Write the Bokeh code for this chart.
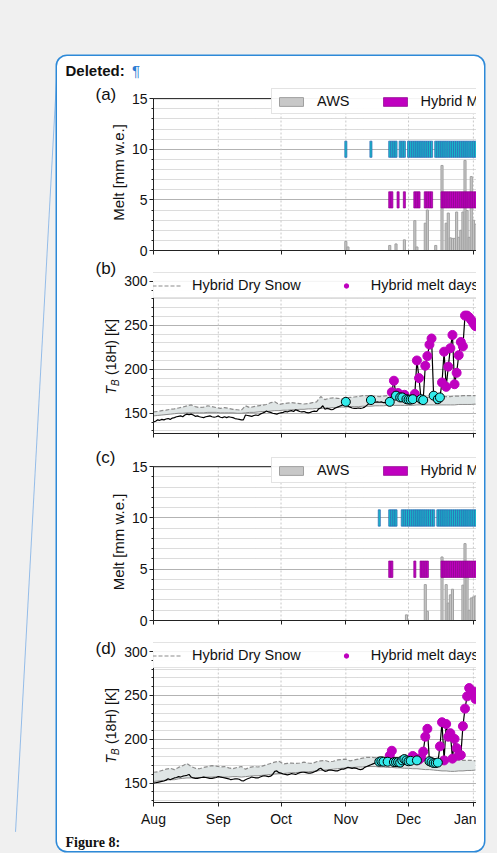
import pandas as pd
from datetime import datetime
from math import pi
from bokeh.plotting import figure
from bokeh.layouts import column, row
from bokeh.models import (Range1d, MonthsTicker, DatetimeTickFormatter, SingleIntervalTicker,
                          Legend, LegendItem, Span, GlobalInlineStyleSheet, CustomJSTickFormatter)
from bokeh.core.properties import value
from bokeh.embed import file_html
from bokeh.resources import INLINE

# ---------------- data ----------------
START = "2016-08-01"          # first day of the daily series
X_END = datetime(2017, 1, 2, 12)
month_ticks = list(range(1, 13))

# (b) observed Tb 18H, daily from START
b_tb = [140, 141, 142.5, 142, 143, 142.5, 143.5, 144, 143, 144.5,
        145, 146, 146.5, 147, 146, 148, 149, 148.5, 149, 148,
        146.5, 147, 146, 145.5, 145, 146, 146.5, 147, 146, 145.5,
        146, 147, 145.5, 145, 146, 145, 146, 145.5, 145, 144,
        143.5, 143, 142.5, 142.5, 148, 147.5, 147, 146.5, 147.5, 148,
        147.5, 149, 150, 151, 152.5, 151.5, 151, 150, 149.5, 149,
        150, 150.5, 151, 152, 151.5, 152.5, 153, 152, 154, 153,
        152, 151.5, 152, 151, 150.5, 151, 152, 152.5, 152, 155,
        156, 158.5, 154.5, 155.5, 155,
        154, 154.5, 156, 157, 158, 159, 160, 163, 158, 157,
        156, 155.5, 155.5, 156, 155.5, 156, 157, 159, 161, 165,
        163, 162.5, 163, 162.5, 163, 162, 162, 161.5,
        163, 174, 187, 170, 173, 168, 168, 171, 166, 165.5,
        165.5, 166, 172, 210, 190, 166, 165, 204, 215, 228,
        235, 170, 161, 166, 168, 185, 220, 180, 203, 224,
        239, 183, 196, 216, 231, 226, 261, 261, 259, 256,
        252, 249]
# (b) hybrid dry-snow envelope, every 2 days from START
b_dry_upper = [151.5, 152, 153, 153.5, 154.5, 155, 156, 157, 158.5, 159.5, 157.5,
               156.5, 157, 158.5, 157.5, 156.5, 155.5, 156.5, 155.5, 154.5, 154,
               153.5, 158.5, 156.5, 157.5, 158.5, 159, 160, 162, 163, 160,
               161, 161.5, 162, 161.5, 161, 160.5, 161, 162, 163, 169,
               165.5, 167, 167.5, 167, 166.5, 167, 168, 168.5, 169, 170,
               170, 169.5, 169.5, 169, 169.5, 170, 170, 170, 169.5, 169,
               169, 168.5, 168.5, 168, 168, 168, 168.5, 168.5, 169, 169,
               169, 169.5, 169.5, 170, 170, 170, 170]
b_dry_lower = [147, 147.5, 148, 148.5, 149, 149.5, 150, 150, 150.5, 150.5, 150.5,
               150.5, 150.5, 151, 151, 151, 150.5, 150.5, 150.5, 150.5, 150,
               150, 150.5, 151, 151, 151.5, 152, 152, 152.5, 153, 153,
               153.5, 153.5, 154, 154, 154.5, 154.5, 155, 155, 155.5, 155.5,
               156, 156, 156.5, 156.5, 157, 157, 157.5, 157.5, 157.5, 158,
               158, 158, 158.5, 158.5, 158.5, 159, 159, 159, 159, 159,
               159, 159, 159.5, 159.5, 159.5, 159.5, 159.5, 159.5, 159.5, 159.5,
               159.5, 159.5, 160, 160, 160, 160, 160.5]
b_cyan_periods = [("2016-11-01", "2016-11-01"), ("2016-11-13", "2016-11-13"),
                  ("2016-11-22", "2016-11-22"), ("2016-11-25", "2016-11-25"),
                  ("2016-11-27", "2016-11-28"), ("2016-11-30", "2016-12-03"),
                  ("2016-12-07", "2016-12-08"), ("2016-12-13", "2016-12-13"),
                  ("2016-12-15", "2016-12-16")]
b_melt_periods = [("2016-11-23", "2016-11-24"), ("2016-11-26", "2016-11-26"),
                  ("2016-11-29", "2016-11-29"), ("2016-12-04", "2016-12-06"),
                  ("2016-12-09", "2016-12-12"), ("2016-12-17", "2017-01-02")]

# (d) observed Tb 18H, daily from START
d_tb = [150, 150.5, 151, 151.5, 152, 152.5, 153.5, 155, 154, 155,
        156, 156.5, 157.5, 157, 158, 158.5, 159, 160, 157, 156,
        155.5, 155.5, 156, 156.5, 157, 156.5, 156, 155.5, 155.5, 156,
        156.5, 157.5, 157, 156.5, 156, 155.5, 155, 154, 154.5, 155,
        155, 154.5, 153, 152.5, 154, 155, 156, 157, 156.5, 156,
        156, 157, 158, 158.5, 158, 157.5, 158, 160, 163.5, 164,
        162, 161.5, 160.5, 160, 159.5, 160, 161, 160.5, 160, 161,
        162, 162.5, 162.5, 162, 161.5, 161.5, 162, 163, 164, 166,
        167, 165, 163.5, 164, 165, 165, 164.5, 164, 164, 165,
        166, 166, 167, 168, 167.5, 167, 167.5, 167, 166, 165.5,
        166, 168, 169, 170, 171, 172, 173, 174,
        174.5, 175, 174.5, 173, 174.5, 181.5, 187, 174, 174, 174,
        173.5, 176, 177.5, 176, 175, 175.5, 181, 179, 176, 177,
        179, 186, 203, 212, 175, 174, 173, 173, 173.5, 192,
        219.5, 176, 217.5, 203, 207, 178, 200.5, 190, 181.5, 182,
        215, 235, 249, 258.5, 253.5, 254.5, 246]
d_dry_upper = [162.5, 163, 164.5, 166, 167, 165.5, 168, 170, 172.5, 169, 167,
               166.5, 168, 169, 170, 169.5, 168.5, 169, 167.5, 166.5, 168,
               169, 166, 168, 169, 168.5, 169.5, 171, 172.5, 174, 175,
               172, 172.5, 173, 172.5, 173, 174, 173, 172.5, 174.5, 175.5,
               176, 174.5, 175, 176.5, 177, 177.5, 175.5, 176.5, 177.5, 178.5,
               179.5, 179.5, 179, 179.5, 179.5, 179, 179, 178.5, 179, 178.5,
               178, 178, 177.5, 177.5, 177, 177.5, 177.5, 177, 177, 176.5,
               176.5, 176, 176.5, 176, 176, 176, 175.5]
d_dry_lower = [152, 152.5, 153, 153.5, 154, 154, 155, 155.5, 156, 156, 156.5,
               156.5, 157, 157, 157, 157.5, 157.5, 157, 157, 157.5, 157.5,
               157, 157.5, 158, 158.5, 158.5, 159, 159.5, 160, 160.5, 161,
               161, 161.5, 162, 162, 162.5, 163, 163, 163.5, 164, 164.5,
               165, 165.5, 166, 166.5, 167, 167.5, 168, 168, 168.5, 168.5,
               169, 169, 169, 168.5, 168.5, 168, 168, 167.5, 167.5, 167,
               167, 166.5, 166.5, 166, 165.5, 165.5, 165, 164.5, 164, 164,
               163.5, 163.5, 164, 164, 164.5, 164.5, 165]
d_cyan_periods = [("2016-11-17", "2016-11-19"), ("2016-11-21", "2016-11-21"),
                  ("2016-11-24", "2016-12-02"), ("2016-12-05", "2016-12-05"),
                  ("2016-12-11", "2016-12-15")]
d_melt_periods = [("2016-11-22", "2016-11-23"), ("2016-12-03", "2016-12-04"),
                  ("2016-12-06", "2016-12-10"), ("2016-12-16", "2017-01-02")]

# (a) daily melt
a_aws_dates = ["2016-11-01", "2016-11-02", "2016-11-22", "2016-11-25", "2016-11-29",
               "2016-12-04", "2016-12-05", "2016-12-09", "2016-12-10", "2016-12-14",
               "2016-12-17", "2016-12-19", "2016-12-20", "2016-12-21", "2016-12-22",
               "2016-12-23", "2016-12-24", "2016-12-25", "2016-12-26", "2016-12-27",
               "2016-12-28", "2016-12-29", "2016-12-30", "2016-12-31", "2017-01-01",
               "2017-01-02"]
a_aws_melt = [0.9, 0.35, 0.5, 0.65, 1.05, 2.95, 0.35, 2.7, 4.0, 0.5,
              8.4, 2.7, 3.7, 1.25, 1.2, 1.2, 3.8, 1.3, 2.0, 3.8,
              8.9, 3.95, 1.3, 7.3, 3.0, 2.6]
a_hybrid_periods = [("2016-11-22", "2016-11-23"), ("2016-11-26", "2016-11-26"),
                    ("2016-11-29", "2016-11-29"), ("2016-12-04", "2016-12-06"),
                    ("2016-12-09", "2016-12-12"), ("2016-12-17", "2017-01-02")]
a_other_periods = [("2016-11-01", "2016-11-01"), ("2016-11-13", "2016-11-13"),
                   ("2016-11-22", "2016-11-25"), ("2016-11-27", "2016-11-29"),
                   ("2016-12-01", "2016-12-12"), ("2016-12-14", "2017-01-02")]

# (c) daily melt
c_aws_dates = ["2016-11-30", "2016-12-09", "2016-12-10", "2016-12-17", "2016-12-19",
               "2016-12-20", "2016-12-21", "2016-12-22", "2016-12-27", "2016-12-28",
               "2016-12-29", "2016-12-30", "2016-12-31", "2017-01-01", "2017-01-02"]
c_aws_melt = [0.55, 3.5, 0.9, 6.2, 3.5, 1.7, 2.5, 3.05, 3.45, 7.5, 4.3, 1.0, 2.2, 2.3, 2.4]
c_hybrid_periods = [("2016-11-22", "2016-11-23"), ("2016-12-04", "2016-12-04"),
                    ("2016-12-07", "2016-12-10"), ("2016-12-17", "2017-01-02")]
c_other_periods = [("2016-11-17", "2016-11-17"), ("2016-11-22", "2016-11-25"),
                   ("2016-11-28", "2016-12-13"), ("2016-12-15", "2017-01-02")]

HYBRID_ROW = 5
OTHER_ROW = 10

# ---------------- styling ----------------
FONT = "Liberation Sans"
DAY_MS = 86400000
ROW_HALF = 0.8
MAGENTA = "#bf00bf"
CYAN = "#33eaea"
TXT = "#111111"
month_starts = pd.date_range(START, X_END, freq="MS")


def expand(periods):
    out = []
    for s, e in periods:
        out.extend(pd.date_range(s, e, freq="D"))
    return out


def plain_fig(width, height):
    g = figure(width=width, height=height, x_range=Range1d(0, width), y_range=Range1d(height, 0),
               output_backend="svg", toolbar_location=None, min_border=0,
               x_axis_location=None, y_axis_location=None, frame_align=False)
    g.title.visible = False
    g.grid.visible = False
    g.outline_line_color = None
    g.background_fill_color = None
    g.border_fill_color = None
    return g


def gtext(g, x, y, text, size, angle=0, align="left", style="normal", font=FONT, color=TXT):
    g.text(x=[x], y=[y], text=[text], angle=angle, text_align=align, text_baseline="middle",
           text_font=value(font), text_font_size=size, text_font_style=style, text_color=color)


def base_fig(width, height, left, top, bottom, y_range, bounds, ticker, show_x):
    p = figure(width=width, height=height, x_axis_type="datetime",
               x_range=Range1d(datetime(2016, 8, 1), X_END), y_range=y_range,
               output_backend="svg", toolbar_location=None, frame_align=False,
               min_border_left=left, min_border_right=0,
               min_border_top=top, min_border_bottom=bottom)
    p.title.visible = False
    p.outline_line_color = None
    p.border_fill_color = None
    p.background_fill_color = "white"
    mt = MonthsTicker(months=month_ticks)
    p.xaxis.ticker = mt
    p.xgrid.visible = False
    p.xaxis.minor_tick_line_color = None
    p.xaxis.major_tick_in = 0
    p.xaxis.major_tick_out = 4
    if show_x:
        p.xaxis.formatter = DatetimeTickFormatter(months="%b", days="%b", years="%b")
        p.xaxis.major_label_text_font_size = "14px"
        p.xaxis.major_label_standoff = 4
    else:
        p.xaxis.formatter = CustomJSTickFormatter(code="return ''")
        p.xaxis.major_label_text_font_size = "1px"
        p.xaxis.major_label_standoff = 0
    p.yaxis.ticker = ticker
    p.yaxis.bounds = bounds
    p.ygrid.ticker = ticker
    p.ygrid.bounds = bounds
    p.yaxis.major_tick_in = 0
    p.yaxis.major_tick_out = 4
    p.yaxis.minor_tick_in = 0
    p.yaxis.minor_tick_out = 2
    p.yaxis.major_label_standoff = 2
    for ax in (p.xaxis[0], p.yaxis[0]):
        ax.axis_line_color = "#222222"
        ax.major_tick_line_color = "#222222"
        ax.major_label_text_font = FONT
        ax.major_label_text_color = TXT
    p.yaxis.minor_tick_line_color = "#222222"
    p.yaxis.major_label_text_font_size = "14px"
    p.ygrid.grid_line_color = "#8a8a8a"
    p.ygrid.grid_line_dash = "1 1"
    p.ygrid.minor_grid_line_color = "#b8b8b8"
    p.ygrid.minor_grid_line_dash = "1 1"
    n = len(month_starts)
    p.segment(x0=month_starts, y0=[bounds[0]] * n, x1=month_starts, y1=[bounds[1]] * n,
              line_color="#c8c8c8", line_width=1, line_dash="2 2")
    p.add_layout(Span(location=bounds[1], dimension="width", line_color="#222222", line_width=1))
    return p


def melt_panel(height, top, bottom, y_top, aws_dates, aws_vals,
               hyb_periods, oth_periods, legend_y):
    p = base_fig(348, height, 23, top, bottom, Range1d(0, y_top), (0, 15),
                 SingleIntervalTicker(interval=5, num_minor_ticks=5), False)
    r1 = p.vbar(x=pd.to_datetime(aws_dates), top=aws_vals, bottom=0, width=DAY_MS,
                fill_color="#c8c8c8", line_color="#a0a0a0", line_width=1)
    hd = expand(hyb_periods)
    r2 = p.vbar(x=hd, top=[HYBRID_ROW + ROW_HALF] * len(hd), bottom=[HYBRID_ROW - ROW_HALF] * len(hd),
                width=DAY_MS, fill_color=MAGENTA, line_color="#8d008d", line_width=0.7)
    od = expand(oth_periods)
    p.vbar(x=od, top=[OTHER_ROW + ROW_HALF] * len(od), bottom=[OTHER_ROW - ROW_HALF] * len(od),
           width=DAY_MS, fill_color="#18b9c9", line_color="#2a64b4", line_width=0.7)
    leg = Legend(items=[LegendItem(label="AWS", renderers=[r1]),
                        LegendItem(label="Hybrid Melt", renderers=[r2])],
                 location=(118, legend_y), orientation="horizontal",
                 glyph_width=30, glyph_height=11, label_standoff=11, spacing=30,
                 padding=4, margin=0, label_height=15,
                 label_text_font=FONT, label_text_font_size="14.5px", label_text_color=TXT,
                 border_line_color="#c8c8c8", background_fill_color="white",
                 background_fill_alpha=0.95)
    p.add_layout(leg)
    return p


def tb_panel(height, top, bottom, y_lo, y_hi, tb, up, lo, cyan_periods, melt_periods,
             legend_y, show_x):
    p = base_fig(355, height, 30, top, bottom, Range1d(y_lo, y_hi), (y_lo, 300),
                 SingleIntervalTicker(interval=50, num_minor_ticks=5), show_x)
    days = pd.date_range(START, periods=len(tb), freq="D")
    env = pd.date_range(START, periods=len(up), freq="2D")
    p.varea(x=env, y1=lo, y2=up, fill_color="#dfe5e5")
    p.line(env, lo, line_color="#8c8c8c", line_width=1)
    r_up = p.line(env, up, line_color="#8c8c8c", line_width=1.2, line_dash="4 2")
    p.line(days, tb, line_color="black", line_width=1.2)
    series = pd.Series(tb, index=days)
    md = expand(melt_periods)
    r_m = p.scatter(md, series.loc[md].values, marker="circle", size=9,
                    fill_color=MAGENTA, line_color=MAGENTA)
    cd = expand(cyan_periods)
    p.scatter(cd, series.loc[cd].values, marker="circle", size=9,
              fill_color=CYAN, line_color="black", line_width=1)
    leg = Legend(items=[LegendItem(label="Hybrid Dry Snow", renderers=[r_up]),
                        LegendItem(label="Hybrid melt days", renderers=[r_m])],
                 location=(-6, legend_y), orientation="horizontal",
                 glyph_width=30, glyph_height=11, label_standoff=10, spacing=30,
                 padding=4, margin=0, label_height=15,
                 label_text_font=FONT, label_text_font_size="14.5px", label_text_color=TXT,
                 border_line_color="#c8c8c8", background_fill_color="white",
                 background_fill_alpha=0.95)
    p.add_layout(leg)
    return p


def tb_gutter(height, label, label_y, t_y):
    g = plain_fig(64, height)
    gtext(g, 38, label_y, label, "17px")
    gtext(g, 53.5, t_y, "T", "14px", angle=pi / 2, style="italic")
    gtext(g, 57.5, t_y - 8.6, "B", "10px", angle=pi / 2, style="italic")
    gtext(g, 53.5, t_y - 19.5, "(18H) [K]", "14px", angle=pi / 2)
    return g


def melt_gutter(height, label, label_y, melt_y):
    g = plain_fig(71, height)
    gtext(g, 38, label_y, label, "17px")
    gtext(g, 61, melt_y, "Melt [mm w.e.]", "15px", angle=pi / 2, align="center")
    return g


# header
hdr = plain_fig(427, 30)
gtext(hdr, 8, 14, "Deleted:", "15px", style="bold")
gtext(hdr, 74.5, 14, "\u00b6", "15px", color="#2b7cd3")

# rows
fa = melt_panel(172, 2, 8, 16.0, a_aws_dates, a_aws_melt, a_hybrid_periods, a_other_periods, 136)
ga = melt_gutter(172, "(a)", 8, 86)

fb = tb_panel(183, 14, 8, 127, 310, b_tb, b_dry_upper, b_dry_lower,
              b_cyan_periods, b_melt_periods, 135, False)
gb = tb_gutter(183, "(b)", 10, 136)

fc = melt_panel(187, 16, 8, 15.9, c_aws_dates, c_aws_melt, c_hybrid_periods, c_other_periods, 137)
gc = melt_gutter(187, "(c)", 15.5, 100.5)

fd = tb_panel(223, 14, 49, 128, 310.4, d_tb, d_dry_upper, d_dry_lower,
              d_cyan_periods, d_melt_periods, 134, True)
gd = tb_gutter(223, "(d)", 20, 135)
gtext(gd, 8, 214, "Figure 8:", "14px", style="bold", font="Liberation Serif")

css = """
body { background-color: #f0f0f0; }
body::before { content: ""; position: absolute; left: 57px; top: 62px; width: 1px;
  height: 771px; background: #94bce8; transform-origin: 0 0; transform: rotate(3.12deg); }
"""

card = column(hdr, row(ga, fa), row(gb, fb), row(gc, fc), row(gd, fd),
              width=427, height=795, margin=(56, 0, 0, 57),
              styles={"background-color": "white", "border-radius": "10px",
                      "box-shadow": "0 0 0 1.5px #2d89d8"})
card.stylesheets = [GlobalInlineStyleSheet(css=css)]

open("out.html", "w").write(file_html(card, INLINE))
